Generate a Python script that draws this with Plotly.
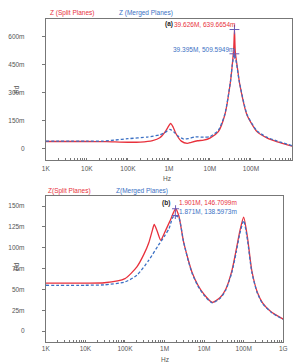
import plotly.graph_objects as go

# ---------------- data (a) ----------------
fa_red = [1e3, 1e4, 3e4, 1e5, 2e5, 4e5, 6e5, 8e5, 1.0e6, 1.1e6, 1.25e6, 1.5e6, 2e6, 2.8e6,
          3.5e6, 5e6, 7e6, 1e7, 1.6e7, 2.3e7, 3.16e7, 3.5e7, 3.8e7, 3.9626e7, 4.15e7, 4.7e7,
          5.3e7, 8e7, 1.4e8, 2.5e8, 4.4e8, 1e9]
za_red = [40, 40, 39, 36, 37, 45, 60, 90, 125, 137, 120, 80, 42, 30,
          36, 44, 47, 58, 93, 182, 360, 450, 540, 639.6654, 520, 430,
          350, 182, 93, 58, 38, 15]

fa_blue = [1e3, 1e4, 2.5e4, 5e4, 1e5, 3e5, 6e5, 8e5, 1.05e6, 1.3e6, 1.7e6, 2.3e6, 3e6,
           4.5e6, 7e6, 1e7, 1.6e7, 2.3e7, 3.16e7, 3.5e7, 3.9395e7, 4.5e7, 5.2e7, 8e7,
           1.4e8, 2.5e8, 4.4e8, 1e9]
za_blue = [42, 42, 42, 48, 55, 64, 76, 88, 105, 92, 68, 53, 56,
           65, 63, 66, 100, 185, 360, 450, 509.5949, 450, 360, 185,
           97, 62, 42, 18]

# ---------------- data (b) ----------------
fb_red = [1e3, 1e4, 3e4, 1e5, 2e5, 3e5, 4e5, 5e5, 5.5e5, 6.5e5, 8e5, 1e6, 1.4e6, 1.901e6,
          2.3e6, 3e6, 4e6, 5e6, 7e6, 1e7, 1.6e7, 2.5e7, 3.5e7, 5e7, 6.5e7, 8e7, 1e8,
          1.25e8, 1.6e8, 2.2e8, 3e8, 5e8, 1e9]
zb_red = [57.5, 57.5, 58, 63, 77, 92, 106, 122, 128, 120, 109, 118, 133, 146.7099,
          138, 108, 85, 70, 55, 44, 34.5, 40, 50, 72, 98, 120, 136.5,
          112, 73, 47, 34, 23, 14.5]

fb_blue = [1e3, 1e4, 3e4, 1e5, 2e5, 4e5, 7e5, 1e6, 1.3e6, 1.6e6, 1.871e6, 2.3e6, 3e6,
           4e6, 5e6, 7e6, 1e7, 1.6e7, 2.5e7, 3.5e7, 5e7, 6.5e7, 8e7, 1e8, 1.25e8,
           1.6e8, 2.2e8, 3e8, 5e8, 1e9]
zb_blue = [55, 55, 55.5, 59, 67, 85, 103, 114, 123, 136, 138.5973, 136, 108,
           84, 69, 54, 43, 34, 39, 49, 70, 95, 117, 132.5, 109,
           71, 46, 33, 22.5, 14]

x_ticktext_major = ["1K", "10K", "100K", "1M", "10M", "100M", "1G"]
ya_tickvals = [0, 150, 300, 450, 600]
ya_ticktext = ["0", "150m", "300m", "450m", "600m"]
yb_tickvals = [0, 25, 50, 75, 100, 125, 150]
yb_ticktext = ["0", "25m", "50m", "75m", "100m", "125m", "150m"]

RED = "#e8313c"
BLUE = "#3b70c4"
MARK = "#6a5bb5"
W, H = 296, 362

def px(x):
    return x / W

def py(y):
    return 1 - y / H

xt_vals, xt_text = [], []
for d in range(3, 9):
    for m in range(1, 10):
        xt_vals.append(m * 10 ** d)
        xt_text.append(x_ticktext_major[d - 3] if m == 1 else "")
xt_vals.append(1e9)
xt_text.append("1G")

DASH = "3px,2px"
fig = go.Figure()
fig.add_trace(go.Scatter(x=fa_red, y=za_red, mode="lines", line=dict(color=RED, width=1.3, shape="spline", smoothing=0.6),
                         xaxis="x", yaxis="y", showlegend=False))
fig.add_trace(go.Scatter(x=fa_blue, y=za_blue, mode="lines", line=dict(color=BLUE, width=1.3, dash=DASH, shape="spline", smoothing=0.6),
                         xaxis="x", yaxis="y", showlegend=False))
fig.add_trace(go.Scatter(x=fb_red, y=zb_red, mode="lines", line=dict(color=RED, width=1.3, shape="spline", smoothing=0.6),
                         xaxis="x2", yaxis="y2", showlegend=False))
fig.add_trace(go.Scatter(x=fb_blue, y=zb_blue, mode="lines", line=dict(color=BLUE, width=1.3, dash=DASH, shape="spline", smoothing=0.6),
                         xaxis="x2", yaxis="y2", showlegend=False))
fig.add_trace(go.Scatter(x=[3.9626e7, 3.9395e7], y=[639.6654, 509.5949], mode="markers",
                         marker=dict(symbol="cross-thin", size=7, line=dict(color=MARK, width=1)),
                         xaxis="x", yaxis="y", showlegend=False))
fig.add_trace(go.Scatter(x=[1.901e6, 1.871e6], y=[146.7099, 138.5973], mode="markers",
                         marker=dict(symbol="cross-thin", size=5, line=dict(color=MARK, width=1)),
                         xaxis="x2", yaxis="y2", showlegend=False))

tickfont = dict(family="Liberation Sans, Arial", size=6.5, color="#555")
common_x = dict(type="log", range=[3, 9], tickvals=xt_vals, ticktext=xt_text, ticks="inside",
                ticklen=2, tickcolor="#777", showgrid=False, zeroline=False, showline=True,
                linecolor="#777", linewidth=1, mirror=True, tickfont=tickfont, tickangle=0)
common_y = dict(ticks="outside", ticklen=3, tickcolor="#777", showgrid=False, zeroline=False,
                showline=True, linecolor="#777", linewidth=1, mirror=True, tickfont=tickfont,
                ticklabelstandoff=16)

fig.update_layout(
    width=W, height=H, margin=dict(l=0, r=0, t=0, b=0),
    paper_bgcolor="white", plot_bgcolor="white",
    xaxis=dict(common_x, domain=[px(43), 1.0], anchor="y", ticklabelstandoff=2),
    yaxis=dict(common_y, domain=[py(160), py(19)], range=[-59, 696], anchor="x",
               tickvals=ya_tickvals, ticktext=ya_ticktext),
    xaxis2=dict(common_x, domain=[px(43), px(287)], anchor="y2", ticklabelstandoff=0),
    yaxis2=dict(common_y, domain=[py(342), py(196)], range=[-13, 162], anchor="x2",
                tickvals=yb_tickvals, ticktext=yb_ticktext),
)

af = dict(family="Liberation Sans, Arial", size=6.5)
ann = [
    dict(x=px(45), y=py(13), text="Z (Split Planes)", color=RED, xanchor="left"),
    dict(x=px(116), y=py(13), text="Z (Merged Planes)", color=BLUE, xanchor="left"),
    dict(x=px(163), y=py(24), text="<b>(a)</b>", color="#222", xanchor="left"),
    dict(x=px(173), y=py(25), text="39.626M, 639.6654m", color=RED, xanchor="left"),
    dict(x=px(172), y=py(49), text="39.395M, 509.5949m", color=BLUE, xanchor="left"),
    dict(x=px(168), y=py(178), text="Hz", color="#555", xanchor="center"),
    dict(x=px(43), y=py(191), text="Z(Split Planes)", color=RED, xanchor="left"),
    dict(x=px(113), y=py(191), text="Z(Merged Planes)", color=BLUE, xanchor="left"),
    dict(x=px(160), y=py(203), text="<b>(b)</b>", color="#222", xanchor="left"),
    dict(x=px(178), y=py(203), text="1.901M, 146.7099m", color=RED, xanchor="left"),
    dict(x=px(178), y=py(212), text="1.871M, 138.5973m", color=BLUE, xanchor="left"),
    dict(x=px(165), y=py(359), text="Hz", color="#555", xanchor="center"),
]
annotations = []
for a in ann:
    annotations.append(dict(x=a["x"], y=a["y"], xref="paper", yref="paper", text=a["text"],
                            showarrow=False, xanchor=a["xanchor"], yanchor="middle",
                            font=dict(af, color=a["color"])))
for yy in (90, 267):
    annotations.append(dict(x=px(12), y=py(yy), xref="paper", yref="paper", text="Pd",
                            showarrow=False, textangle=-90, xanchor="center", yanchor="middle",
                            font=dict(af, color="#555")))
fig.update_layout(annotations=annotations)

fig.write_html("out.html")
